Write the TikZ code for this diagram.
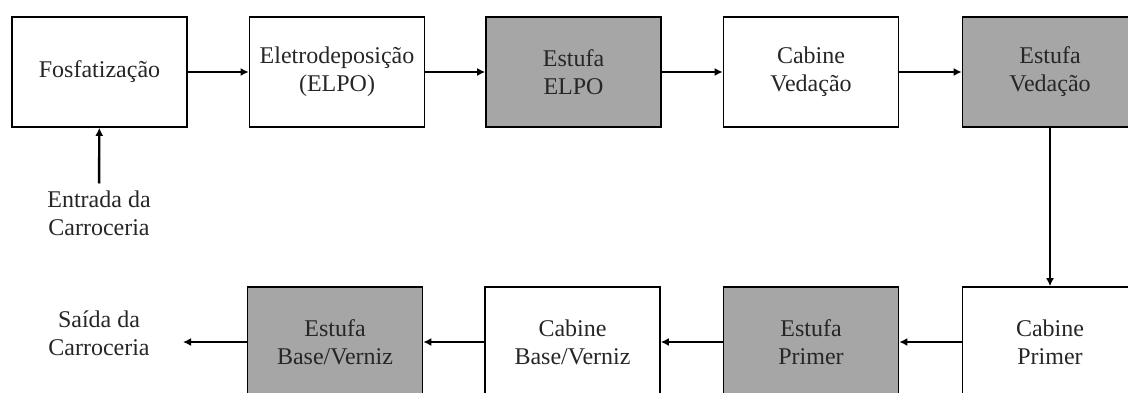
\documentclass[tikz,border=0pt]{standalone}
\usepackage{fontspec}
\setmainfont{Liberation Serif}
\usetikzlibrary{arrows.meta,positioning}
\definecolor{forno}{HTML}{A6A6A6}

\begin{document}
\begin{tikzpicture}[x=0.5pt,y=-0.5pt,>={Latex[length=4pt,width=4pt]},
  etapa/.style={draw,line width=0.8pt,minimum width=87.5pt,minimum height=55pt,
    inner sep=0pt,align=center,text=black!85,font=\fontsize{12}{14}\selectfont},
  estufa/.style={etapa,fill=forno},
  rotulo/.style={align=center,text=black!85,font=\fontsize{12}{14}\selectfont},
  fluxo/.style={->,line width=1.2pt}]
  \useasboundingbox (0,0) rectangle (1128,392);
  \clip (0,0) rectangle (1128,392);

  \node[etapa]  (F)  at (99.5,72)  {Fosfatização};
  \node[etapa]  (EL) at (337,72)   {Eletrodeposição\\(ELPO)};
  \node[estufa] (EE) at (573.5,72) {Estufa\\ELPO};
  \node[etapa]  (CV) at (811,72)   {Cabine\\Vedação};
  \node[estufa] (EV) at (1050,72)  {Estufa\\Vedação};

  \node[etapa]  (CP) at (1050,342)  {Cabine\\Primer};
  \node[estufa] (EP) at (811,342)   {Estufa\\Primer};
  \node[etapa]  (CB) at (572.5,342) {Cabine\\Base/Verniz};
  \node[estufa] (EB) at (335,342)   {Estufa\\Base/Verniz};

  \node[rotulo] (IN)  at (99,213) {Entrada da\\Carroceria};
  \node[rotulo] (OUT) at (99,333) {Saída da\\Carroceria};
  \coordinate (OUTtip) at (183,342);

  \draw[fluxo] (IN) -- (F);
  \draw[fluxo] (F) -- (EL);
  \draw[fluxo] (EL) -- (EE);
  \draw[fluxo] (EE) -- (CV);
  \draw[fluxo] (CV) -- (EV);
  \draw[fluxo] (EV) -- (CP);
  \draw[fluxo] (CP) -- (EP);
  \draw[fluxo] (EP) -- (CB);
  \draw[fluxo] (CB) -- (EB);
  \draw[fluxo] (EB) -- (OUTtip);
\end{tikzpicture}
\end{document}
